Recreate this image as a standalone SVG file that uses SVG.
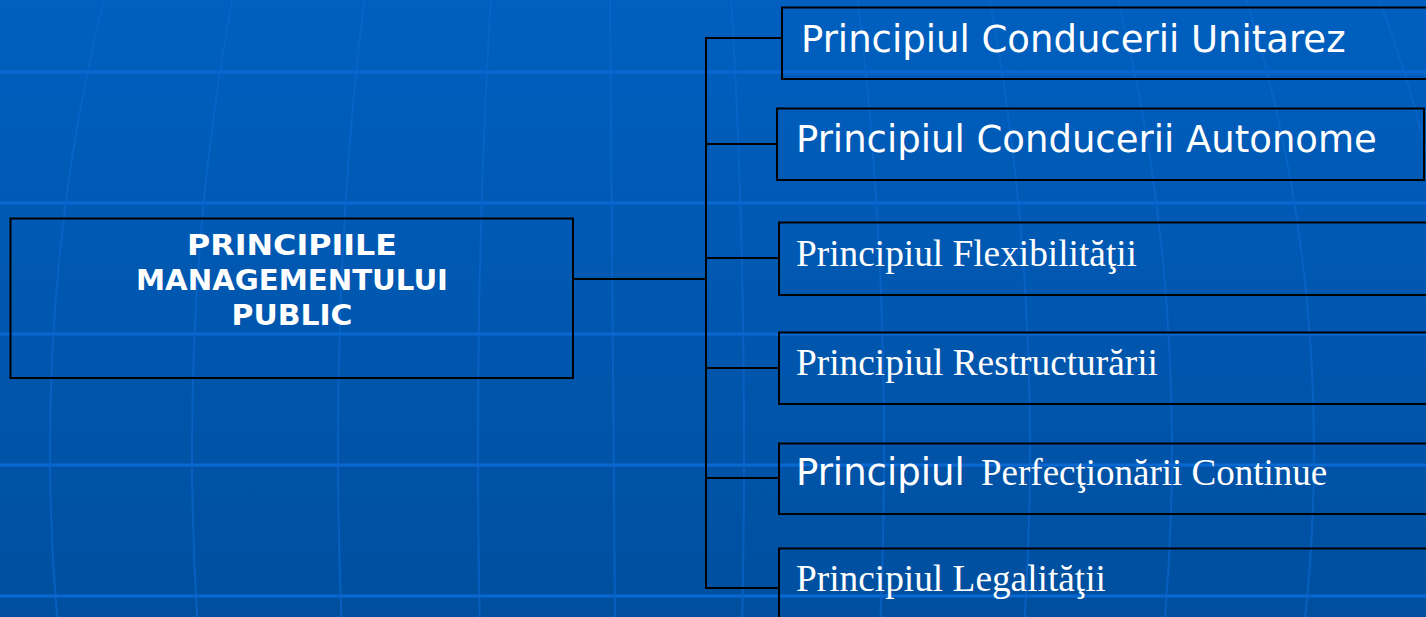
<svg xmlns="http://www.w3.org/2000/svg" width="1426" height="617" viewBox="0 0 1426 617">
  <defs>
    <linearGradient id="bg" x1="0" y1="0" x2="0" y2="1">
      <stop offset="0" stop-color="#005FBF"/>
      <stop offset="1" stop-color="#004F9F"/>
    </linearGradient>
  </defs>
  <style>
    .grid { stroke: #0A68D2; stroke-width: 3; fill: none; }
    .mer { stroke: #0A66CC; stroke-width: 2; fill: none; opacity: 0.7; }
    .box { fill: none; stroke: #000; stroke-width: 2; }
    .conn { stroke: #000; stroke-width: 2; fill: none; }
    .sans { font-family: "DejaVu Sans", Verdana, sans-serif; font-size: 37px; fill: #fff; }
    .serif { font-family: "Liberation Serif", "Times New Roman", serif; font-size: 37px; fill: #fff; }
    .title { font-family: "DejaVu Sans", Verdana, sans-serif; font-weight: bold; font-size: 29px; fill: #fff; text-anchor: middle; }
  </style>
  <rect x="0" y="0" width="1426" height="617" fill="url(#bg)"/>
  <g id="background">
    <line class="grid" x1="0" y1="72" x2="1426" y2="72"/>
    <line class="grid" x1="0" y1="203" x2="1426" y2="203"/>
    <line class="grid" x1="0" y1="334" x2="1426" y2="334"/>
    <line class="grid" x1="0" y1="465" x2="1426" y2="465"/>
    <line class="grid" x1="0" y1="596" x2="1426" y2="596"/>
    <line class="mer" x1="610" y1="0" x2="615" y2="617"/>
    <ellipse class="mer" cx="611" cy="450" rx="133" ry="1052"/>
    <ellipse class="mer" cx="611" cy="450" rx="273" ry="1052"/>
    <ellipse class="mer" cx="611" cy="450" rx="419" ry="1052"/>
    <ellipse class="mer" cx="611" cy="450" rx="561" ry="1052"/>
    <ellipse class="mer" cx="611" cy="450" rx="703" ry="1052"/>
    <ellipse class="mer" cx="611" cy="450" rx="850" ry="1052"/>
  </g>
  <g id="connectors">
    <line class="conn" x1="573" y1="279" x2="706" y2="279"/>
    <line class="conn" x1="706" y1="38" x2="706" y2="588"/>
    <line class="conn" x1="705" y1="38" x2="782" y2="38"/>
    <line class="conn" x1="705" y1="144" x2="777" y2="144"/>
    <line class="conn" x1="705" y1="258" x2="779" y2="258"/>
    <line class="conn" x1="705" y1="368" x2="779" y2="368"/>
    <line class="conn" x1="705" y1="478" x2="779" y2="478"/>
    <line class="conn" x1="705" y1="588" x2="779" y2="588"/>
  </g>
  <g id="root">
    <rect class="box" x="10.5" y="218.5" width="562.5" height="159.5"/>
    <text class="title" x="292" y="255" textLength="210" lengthAdjust="spacingAndGlyphs">PRINCIPIILE</text>
    <text class="title" x="292" y="290" textLength="312" lengthAdjust="spacingAndGlyphs">MANAGEMENTULUI</text>
    <text class="title" x="292" y="325" textLength="121" lengthAdjust="spacingAndGlyphs">PUBLIC</text>
  </g>
  <g id="p1">
    <rect class="box" x="782" y="7.5" width="660" height="71.5"/>
    <text class="sans" x="801" y="52">Principiul Conducerii Unitarez</text>
  </g>
  <g id="p2">
    <rect class="box" x="777" y="108.5" width="647" height="71.5"/>
    <text class="sans" x="796" y="152">Principiul Conducerii Autonome</text>
  </g>
  <g id="p3">
    <rect class="box" x="779" y="222.5" width="660" height="72.5"/>
    <text class="serif" x="796" y="266" textLength="341" lengthAdjust="spacingAndGlyphs">Principiul Flexibilităţii</text>
  </g>
  <g id="p4">
    <rect class="box" x="779" y="332.5" width="660" height="71.5"/>
    <text class="serif" x="796" y="375" textLength="362" lengthAdjust="spacingAndGlyphs">Principiul Restructurării</text>
  </g>
  <g id="p5">
    <rect class="box" x="779" y="443.5" width="660" height="70.5"/>
    <text x="796" y="485"><tspan class="sans">Principiul</tspan><tspan class="serif" x="981">Perfecţionării Continue</tspan></text>
  </g>
  <g id="p6">
    <rect class="box" x="779" y="548.5" width="660" height="80"/>
    <text class="serif" x="796" y="591" textLength="310" lengthAdjust="spacingAndGlyphs">Principiul Legalităţii</text>
  </g>
</svg>
